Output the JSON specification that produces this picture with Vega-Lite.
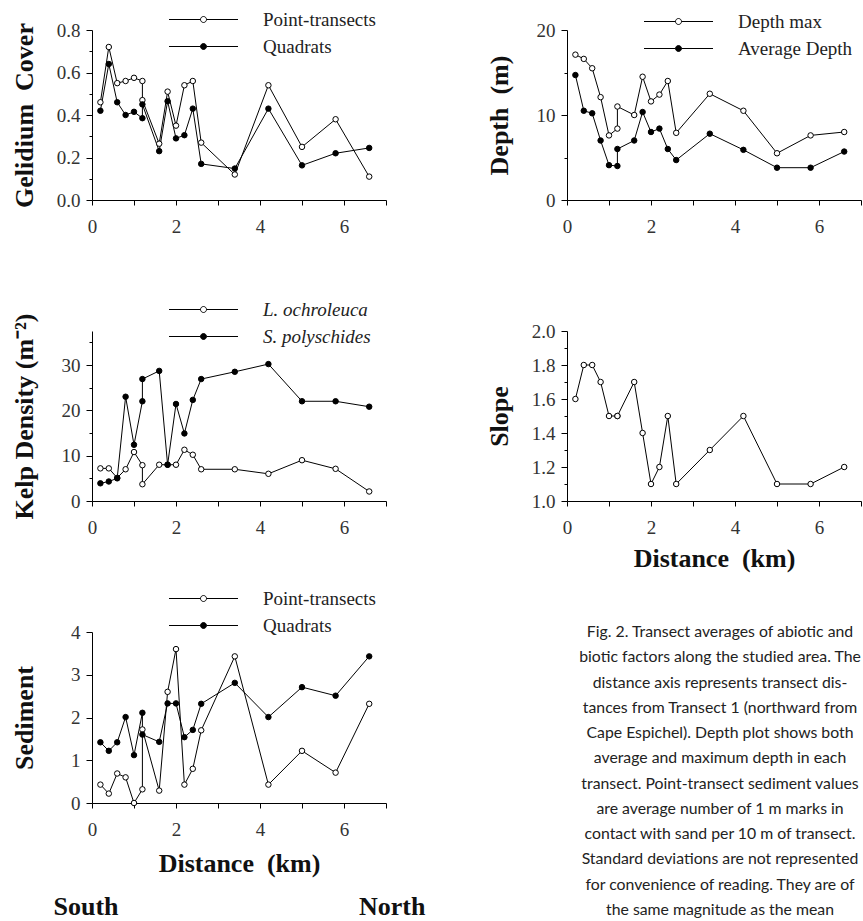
{
  "$schema": "https://vega.github.io/schema/vega-lite/v6.json",
  "background": "white",
  "padding": {"left": 11, "top": 10, "right": 0, "bottom": 0},
  "columns": 2,
  "bounds": "flush",
  "align": "each",
  "spacing": {"row": 131, "column": 181},
  "resolve": {"scale": {"fill": "independent"}, "legend": {"fill": "independent"}},
  "config": {
    "view": {"stroke": null},
    "font": "Liberation Serif",
    "axis": {
      "grid": false,
      "domainColor": "black",
      "domainWidth": 1,
      "tickColor": "black",
      "tickWidth": 1,
      "labelColor": "#333",
      "labelFont": "Liberation Serif",
      "labelFontSize": 19,
      "labelFlush": false,
      "labelOverlap": false,
      "titleFont": "Liberation Serif",
      "titleFontSize": 26,
      "titleFontWeight": "bold",
      "titleColor": "#111"
    },
    "legend": {
      "title": null,
      "orient": "none",
      "padding": 0,
      "symbolType": "M-6.9,0H-0.6M0.6,0H6.9M-0.6,0A0.6,0.6,0,1,0,0.6,0A0.6,0.6,0,1,0,-0.6,0",
      "symbolSize": 100,
      "symbolStrokeColor": "black",
      "symbolStrokeWidth": 1,
      "labelFont": "Liberation Serif",
      "labelFontSize": 19,
      "labelColor": "#222",
      "labelOffset": 50,
      "rowPadding": 7
    }
  },
  "datasets": {
    "gelidium": [
      {"t": 1, "d": 0.2, "s": "Point-transects", "v": 0.46},
      {"t": 2, "d": 0.4, "s": "Point-transects", "v": 0.72},
      {"t": 3, "d": 0.6, "s": "Point-transects", "v": 0.55},
      {"t": 4, "d": 0.8, "s": "Point-transects", "v": 0.56},
      {"t": 5, "d": 1.0, "s": "Point-transects", "v": 0.575},
      {"t": 6, "d": 1.2, "s": "Point-transects", "v": 0.56},
      {"t": 7, "d": 1.2, "s": "Point-transects", "v": 0.47},
      {"t": 8, "d": 1.6, "s": "Point-transects", "v": 0.265},
      {"t": 9, "d": 1.8, "s": "Point-transects", "v": 0.51},
      {"t": 10, "d": 2.0, "s": "Point-transects", "v": 0.35},
      {"t": 11, "d": 2.2, "s": "Point-transects", "v": 0.54},
      {"t": 12, "d": 2.4, "s": "Point-transects", "v": 0.56},
      {"t": 13, "d": 2.6, "s": "Point-transects", "v": 0.27},
      {"t": 14, "d": 3.4, "s": "Point-transects", "v": 0.12},
      {"t": 15, "d": 4.2, "s": "Point-transects", "v": 0.54},
      {"t": 16, "d": 5.0, "s": "Point-transects", "v": 0.25},
      {"t": 17, "d": 5.8, "s": "Point-transects", "v": 0.38},
      {"t": 18, "d": 6.6, "s": "Point-transects", "v": 0.11},
      {"t": 1, "d": 0.2, "s": "Quadrats", "v": 0.42},
      {"t": 2, "d": 0.4, "s": "Quadrats", "v": 0.64},
      {"t": 3, "d": 0.6, "s": "Quadrats", "v": 0.46},
      {"t": 4, "d": 0.8, "s": "Quadrats", "v": 0.40},
      {"t": 5, "d": 1.0, "s": "Quadrats", "v": 0.415},
      {"t": 6, "d": 1.2, "s": "Quadrats", "v": 0.385},
      {"t": 7, "d": 1.2, "s": "Quadrats", "v": 0.45},
      {"t": 8, "d": 1.6, "s": "Quadrats", "v": 0.23},
      {"t": 9, "d": 1.8, "s": "Quadrats", "v": 0.465},
      {"t": 10, "d": 2.0, "s": "Quadrats", "v": 0.29},
      {"t": 11, "d": 2.2, "s": "Quadrats", "v": 0.305},
      {"t": 12, "d": 2.4, "s": "Quadrats", "v": 0.43},
      {"t": 13, "d": 2.6, "s": "Quadrats", "v": 0.17},
      {"t": 14, "d": 3.4, "s": "Quadrats", "v": 0.148},
      {"t": 15, "d": 4.2, "s": "Quadrats", "v": 0.43},
      {"t": 16, "d": 5.0, "s": "Quadrats", "v": 0.163},
      {"t": 17, "d": 5.8, "s": "Quadrats", "v": 0.22},
      {"t": 18, "d": 6.6, "s": "Quadrats", "v": 0.245}
    ],
    "depth": [
      {"t": 1, "d": 0.2, "s": "Depth max", "v": 17.1},
      {"t": 2, "d": 0.4, "s": "Depth max", "v": 16.6},
      {"t": 3, "d": 0.6, "s": "Depth max", "v": 15.5},
      {"t": 4, "d": 0.8, "s": "Depth max", "v": 12.1},
      {"t": 5, "d": 1.0, "s": "Depth max", "v": 7.6},
      {"t": 6, "d": 1.2, "s": "Depth max", "v": 8.4},
      {"t": 7, "d": 1.2, "s": "Depth max", "v": 11.0},
      {"t": 8, "d": 1.6, "s": "Depth max", "v": 10.0},
      {"t": 9, "d": 1.8, "s": "Depth max", "v": 14.5},
      {"t": 10, "d": 2.0, "s": "Depth max", "v": 11.6},
      {"t": 11, "d": 2.2, "s": "Depth max", "v": 12.4},
      {"t": 12, "d": 2.4, "s": "Depth max", "v": 14.0},
      {"t": 13, "d": 2.6, "s": "Depth max", "v": 7.9},
      {"t": 14, "d": 3.4, "s": "Depth max", "v": 12.5},
      {"t": 15, "d": 4.2, "s": "Depth max", "v": 10.5},
      {"t": 16, "d": 5.0, "s": "Depth max", "v": 5.5},
      {"t": 17, "d": 5.8, "s": "Depth max", "v": 7.6},
      {"t": 18, "d": 6.6, "s": "Depth max", "v": 8.0},
      {"t": 1, "d": 0.2, "s": "Average Depth", "v": 14.7},
      {"t": 2, "d": 0.4, "s": "Average Depth", "v": 10.5},
      {"t": 3, "d": 0.6, "s": "Average Depth", "v": 10.2},
      {"t": 4, "d": 0.8, "s": "Average Depth", "v": 7.0},
      {"t": 5, "d": 1.0, "s": "Average Depth", "v": 4.1},
      {"t": 6, "d": 1.2, "s": "Average Depth", "v": 4.0},
      {"t": 7, "d": 1.2, "s": "Average Depth", "v": 6.0},
      {"t": 8, "d": 1.6, "s": "Average Depth", "v": 7.0},
      {"t": 9, "d": 1.8, "s": "Average Depth", "v": 10.35},
      {"t": 10, "d": 2.0, "s": "Average Depth", "v": 8.0},
      {"t": 11, "d": 2.2, "s": "Average Depth", "v": 8.4},
      {"t": 12, "d": 2.4, "s": "Average Depth", "v": 6.0},
      {"t": 13, "d": 2.6, "s": "Average Depth", "v": 4.7},
      {"t": 14, "d": 3.4, "s": "Average Depth", "v": 7.8},
      {"t": 15, "d": 4.2, "s": "Average Depth", "v": 5.9},
      {"t": 16, "d": 5.0, "s": "Average Depth", "v": 3.8},
      {"t": 17, "d": 5.8, "s": "Average Depth", "v": 3.8},
      {"t": 18, "d": 6.6, "s": "Average Depth", "v": 5.7}
    ],
    "kelp": [
      {"t": 1, "d": 0.2, "s": "L. ochroleuca", "v": 7.2},
      {"t": 2, "d": 0.4, "s": "L. ochroleuca", "v": 7.2},
      {"t": 3, "d": 0.6, "s": "L. ochroleuca", "v": 5.1},
      {"t": 4, "d": 0.8, "s": "L. ochroleuca", "v": 7.0},
      {"t": 5, "d": 1.0, "s": "L. ochroleuca", "v": 10.8},
      {"t": 6, "d": 1.2, "s": "L. ochroleuca", "v": 7.9},
      {"t": 7, "d": 1.2, "s": "L. ochroleuca", "v": 3.7},
      {"t": 8, "d": 1.6, "s": "L. ochroleuca", "v": 8.0},
      {"t": 9, "d": 1.8, "s": "L. ochroleuca", "v": 8.0},
      {"t": 10, "d": 2.0, "s": "L. ochroleuca", "v": 8.0},
      {"t": 11, "d": 2.2, "s": "L. ochroleuca", "v": 11.3},
      {"t": 12, "d": 2.4, "s": "L. ochroleuca", "v": 10.2},
      {"t": 13, "d": 2.6, "s": "L. ochroleuca", "v": 7.0},
      {"t": 14, "d": 3.4, "s": "L. ochroleuca", "v": 7.0},
      {"t": 15, "d": 4.2, "s": "L. ochroleuca", "v": 6.0},
      {"t": 16, "d": 5.0, "s": "L. ochroleuca", "v": 9.0},
      {"t": 17, "d": 5.8, "s": "L. ochroleuca", "v": 7.1},
      {"t": 18, "d": 6.6, "s": "L. ochroleuca", "v": 2.1},
      {"t": 1, "d": 0.2, "s": "S. polyschides", "v": 3.9},
      {"t": 2, "d": 0.4, "s": "S. polyschides", "v": 4.3},
      {"t": 3, "d": 0.6, "s": "S. polyschides", "v": 5.0},
      {"t": 4, "d": 0.8, "s": "S. polyschides", "v": 23.0},
      {"t": 5, "d": 1.0, "s": "S. polyschides", "v": 12.4},
      {"t": 6, "d": 1.2, "s": "S. polyschides", "v": 22.0},
      {"t": 7, "d": 1.2, "s": "S. polyschides", "v": 26.9},
      {"t": 8, "d": 1.6, "s": "S. polyschides", "v": 28.7},
      {"t": 9, "d": 1.8, "s": "S. polyschides", "v": 8.0},
      {"t": 10, "d": 2.0, "s": "S. polyschides", "v": 21.4},
      {"t": 11, "d": 2.2, "s": "S. polyschides", "v": 14.9},
      {"t": 12, "d": 2.4, "s": "S. polyschides", "v": 22.3},
      {"t": 13, "d": 2.6, "s": "S. polyschides", "v": 26.9},
      {"t": 14, "d": 3.4, "s": "S. polyschides", "v": 28.5},
      {"t": 15, "d": 4.2, "s": "S. polyschides", "v": 30.2},
      {"t": 16, "d": 5.0, "s": "S. polyschides", "v": 22.0},
      {"t": 17, "d": 5.8, "s": "S. polyschides", "v": 22.0},
      {"t": 18, "d": 6.6, "s": "S. polyschides", "v": 20.8}
    ],
    "slope": [
      {"t": 1, "d": 0.2, "v": 1.6},
      {"t": 2, "d": 0.4, "v": 1.8},
      {"t": 3, "d": 0.6, "v": 1.8},
      {"t": 4, "d": 0.8, "v": 1.7},
      {"t": 5, "d": 1.0, "v": 1.5},
      {"t": 6, "d": 1.2, "v": 1.5},
      {"t": 7, "d": 1.2, "v": 1.5},
      {"t": 8, "d": 1.6, "v": 1.7},
      {"t": 9, "d": 1.8, "v": 1.4},
      {"t": 10, "d": 2.0, "v": 1.1},
      {"t": 11, "d": 2.2, "v": 1.2},
      {"t": 12, "d": 2.4, "v": 1.5},
      {"t": 13, "d": 2.6, "v": 1.1},
      {"t": 14, "d": 3.4, "v": 1.3},
      {"t": 15, "d": 4.2, "v": 1.5},
      {"t": 16, "d": 5.0, "v": 1.1},
      {"t": 17, "d": 5.8, "v": 1.1},
      {"t": 18, "d": 6.6, "v": 1.2}
    ],
    "sediment": [
      {"t": 1, "d": 0.2, "s": "Point-transects", "v": 0.43},
      {"t": 2, "d": 0.4, "s": "Point-transects", "v": 0.22},
      {"t": 3, "d": 0.6, "s": "Point-transects", "v": 0.69},
      {"t": 4, "d": 0.8, "s": "Point-transects", "v": 0.6},
      {"t": 5, "d": 1.0, "s": "Point-transects", "v": 0.0},
      {"t": 6, "d": 1.2, "s": "Point-transects", "v": 0.32},
      {"t": 7, "d": 1.2, "s": "Point-transects", "v": 1.72},
      {"t": 8, "d": 1.6, "s": "Point-transects", "v": 0.29},
      {"t": 9, "d": 1.8, "s": "Point-transects", "v": 2.6},
      {"t": 10, "d": 2.0, "s": "Point-transects", "v": 3.6},
      {"t": 11, "d": 2.2, "s": "Point-transects", "v": 0.43},
      {"t": 12, "d": 2.4, "s": "Point-transects", "v": 0.8},
      {"t": 13, "d": 2.6, "s": "Point-transects", "v": 1.7},
      {"t": 14, "d": 3.4, "s": "Point-transects", "v": 3.43},
      {"t": 15, "d": 4.2, "s": "Point-transects", "v": 0.43},
      {"t": 16, "d": 5.0, "s": "Point-transects", "v": 1.22},
      {"t": 17, "d": 5.8, "s": "Point-transects", "v": 0.71},
      {"t": 18, "d": 6.6, "s": "Point-transects", "v": 2.32},
      {"t": 1, "d": 0.2, "s": "Quadrats", "v": 1.42},
      {"t": 2, "d": 0.4, "s": "Quadrats", "v": 1.22},
      {"t": 3, "d": 0.6, "s": "Quadrats", "v": 1.42},
      {"t": 4, "d": 0.8, "s": "Quadrats", "v": 2.01},
      {"t": 5, "d": 1.0, "s": "Quadrats", "v": 1.12},
      {"t": 6, "d": 1.2, "s": "Quadrats", "v": 2.11},
      {"t": 7, "d": 1.2, "s": "Quadrats", "v": 1.6},
      {"t": 8, "d": 1.6, "s": "Quadrats", "v": 1.43},
      {"t": 9, "d": 1.8, "s": "Quadrats", "v": 2.33},
      {"t": 10, "d": 2.0, "s": "Quadrats", "v": 2.33},
      {"t": 11, "d": 2.2, "s": "Quadrats", "v": 1.54},
      {"t": 12, "d": 2.4, "s": "Quadrats", "v": 1.71},
      {"t": 13, "d": 2.6, "s": "Quadrats", "v": 2.32},
      {"t": 14, "d": 3.4, "s": "Quadrats", "v": 2.81},
      {"t": 15, "d": 4.2, "s": "Quadrats", "v": 2.01},
      {"t": 16, "d": 5.0, "s": "Quadrats", "v": 2.71},
      {"t": 17, "d": 5.8, "s": "Quadrats", "v": 2.51},
      {"t": 18, "d": 6.6, "s": "Quadrats", "v": 3.43}
    ],
    "caption": [
      {"line": 1, "text": "Fig. 2. Transect averages of abiotic and"},
      {"line": 2, "text": "biotic factors along the studied area. The"},
      {"line": 3, "text": "distance axis represents transect dis-"},
      {"line": 4, "text": "tances from Transect 1 (northward from"},
      {"line": 5, "text": "Cape Espichel). Depth plot shows both"},
      {"line": 6, "text": "average and maximum depth in each"},
      {"line": 7, "text": "transect. Point-transect sediment values"},
      {"line": 8, "text": "are average number of 1 m marks in"},
      {"line": 9, "text": "contact with sand per 10 m of transect."},
      {"line": 10, "text": "Standard deviations are not represented"},
      {"line": 11, "text": "for convenience of reading. They are of"},
      {"line": 12, "text": "the same magnitude as the mean"}
    ]
  },
  "concat": [
    {
      "width": 294, "height": 170,
      "data": {"name": "gelidium"},
      "encoding": {
        "x": {"field": "d", "type": "quantitative", "scale": {"domain": [0, 7], "nice": false, "zero": false},
              "axis": {"values": [0, 1, 2, 3, 4, 5, 6, 7], "labelExpr": "datum.value % 2 === 0 ? datum.label : ''", "title": null, "tickSize": 5, "labelPadding": 12, "labelFont": "Liberation Serif"}},
        "y": {"field": "v", "type": "quantitative", "scale": {"domain": [0, 0.8], "nice": false},
              "axis": {"values": [0, 0.1, 0.2, 0.3, 0.4, 0.5, 0.6, 0.7, 0.8], "format": ".1f", "labelFont": "Liberation Serif",
                       "labelExpr": "round(datum.value*10) % 2 === 0 ? datum.label : ''",
                       "tickSize": {"condition": {"test": "round(datum.value*10) % 2 === 0", "value": 6}, "value": 3},
                       "labelPadding": 6, "title": "Gelidium\u00a0 Cover", "titleX": -60, "titleBaseline": "alphabetic"}}
      },
      "layer": [
        {"mark": {"type": "line", "color": "black", "strokeWidth": 1}, "encoding": {"detail": {"field": "s"}, "order": {"field": "t"}}},
        {"mark": {"type": "point", "shape": "circle", "filled": true, "stroke": "black", "strokeWidth": 1, "size": 30, "opacity": 1},
         "encoding": {"fill": {"field": "s", "type": "nominal", "scale": {"domain": ["Point-transects", "Quadrats"], "range": ["white", "black"]},
                               "legend": {"legendX": 102, "legendY": -20}}}}
      ]
    },
    {
      "width": 294, "height": 170,
      "data": {"name": "depth"},
      "encoding": {
        "x": {"field": "d", "type": "quantitative", "scale": {"domain": [0, 7], "nice": false, "zero": false},
              "axis": {"values": [0, 1, 2, 3, 4, 5, 6, 7], "labelExpr": "datum.value % 2 === 0 ? datum.label : ''", "title": null, "tickSize": 5, "labelPadding": 12, "labelFont": "Liberation Serif"}},
        "y": {"field": "v", "type": "quantitative", "scale": {"domain": [0, 20], "nice": false},
              "axis": {"values": [0, 5, 10, 15, 20], "format": "d", "labelFont": "Liberation Serif",
                       "labelExpr": "datum.value % 10 === 0 ? datum.label : ''",
                       "tickSize": {"condition": {"test": "datum.value % 10 === 0", "value": 6}, "value": 3},
                       "labelPadding": 6, "title": "Depth\u00a0 (m)", "titleX": -60, "titleBaseline": "alphabetic"}}
      },
      "layer": [
        {"mark": {"type": "line", "color": "black", "strokeWidth": 1}, "encoding": {"detail": {"field": "s"}, "order": {"field": "t"}}},
        {"mark": {"type": "point", "shape": "circle", "filled": true, "stroke": "black", "strokeWidth": 1, "size": 30, "opacity": 1},
         "encoding": {"fill": {"field": "s", "type": "nominal", "scale": {"domain": ["Depth max", "Average Depth"], "range": ["white", "black"]},
                               "legend": {"legendX": 102, "legendY": -18}}}}
      ]
    },
    {
      "width": 294, "height": 170,
      "data": {"name": "kelp"},
      "encoding": {
        "x": {"field": "d", "type": "quantitative", "scale": {"domain": [0, 7], "nice": false, "zero": false},
              "axis": {"values": [0, 1, 2, 3, 4, 5, 6, 7], "labelExpr": "datum.value % 2 === 0 ? datum.label : ''", "title": null, "tickSize": 5, "labelPadding": 12, "labelFont": "Liberation Serif"}},
        "y": {"field": "v", "type": "quantitative", "scale": {"domain": [0, 37.5], "nice": false},
              "axis": {"values": [0, 5, 10, 15, 20, 25, 30, 35], "format": "d", "labelFont": "Liberation Serif",
                       "labelExpr": "datum.value % 10 === 0 ? datum.label : ''",
                       "tickSize": {"condition": {"test": "datum.value % 10 === 0", "value": 6}, "value": 3},
                       "labelPadding": 6, "title": "Kelp Density (m\u207b\u00b2)", "titleX": -60, "titleBaseline": "alphabetic"}}
      },
      "layer": [
        {"mark": {"type": "line", "color": "black", "strokeWidth": 1}, "encoding": {"detail": {"field": "s"}, "order": {"field": "t"}}},
        {"mark": {"type": "point", "shape": "circle", "filled": true, "stroke": "black", "strokeWidth": 1, "size": 30, "opacity": 1},
         "encoding": {"fill": {"field": "s", "type": "nominal", "scale": {"domain": ["L. ochroleuca", "S. polyschides"], "range": ["white", "black"]},
                               "legend": {"legendX": 102, "legendY": -31, "labelFontStyle": "italic"}}}}
      ]
    },
    {
      "width": 294, "height": 170,
      "data": {"name": "slope"},
      "encoding": {
        "x": {"field": "d", "type": "quantitative", "scale": {"domain": [0, 7], "nice": false, "zero": false},
              "axis": {"values": [0, 1, 2, 3, 4, 5, 6, 7], "labelExpr": "datum.value % 2 === 0 ? datum.label : ''", "title": "Distance\u00a0 (km)", "titlePadding": 8, "tickSize": 5, "labelPadding": 12, "labelFont": "Liberation Serif"}},
        "y": {"field": "v", "type": "quantitative", "scale": {"domain": [1, 2], "nice": false, "zero": false},
              "axis": {"values": [1.0, 1.1, 1.2, 1.3, 1.4, 1.5, 1.6, 1.7, 1.8, 1.9, 2.0], "format": ".1f", "labelFont": "Liberation Serif",
                       "labelExpr": "round(datum.value*10) % 2 === 0 ? datum.label : ''",
                       "tickSize": {"condition": {"test": "round(datum.value*10) % 2 === 0", "value": 6}, "value": 3},
                       "labelPadding": 6, "title": "Slope", "titleX": -60, "titleBaseline": "alphabetic"}}
      },
      "layer": [
        {"mark": {"type": "line", "color": "black", "strokeWidth": 1}, "encoding": {"order": {"field": "t"}}},
        {"mark": {"type": "point", "shape": "circle", "filled": true, "fill": "white", "stroke": "black", "strokeWidth": 1, "size": 30, "opacity": 1}, "encoding": {}}
      ]
    },
    {
      "width": 294, "height": 171,
      "data": {"name": "sediment"},
      "encoding": {
        "x": {"field": "d", "type": "quantitative", "scale": {"domain": [0, 7], "nice": false, "zero": false},
              "axis": {"values": [0, 1, 2, 3, 4, 5, 6, 7], "labelExpr": "datum.value % 2 === 0 ? datum.label : ''", "labelFont": "Liberation Serif",
                       "title": ["Distance\u00a0 (km)", "South\u00a0\u00a0\u00a0\u00a0\u00a0\u00a0\u00a0\u00a0\u00a0\u00a0\u00a0\u00a0\u00a0\u00a0\u00a0\u00a0\u00a0\u00a0\u00a0\u00a0\u00a0\u00a0\u00a0\u00a0\u00a0\u00a0\u00a0\u00a0\u00a0\u00a0\u00a0\u00a0\u00a0\u00a0\u00a0\u00a0\u00a0North"],
                       "titleLineHeight": 43, "titlePadding": 11, "tickSize": 5, "labelPadding": 12}},
        "y": {"field": "v", "type": "quantitative", "scale": {"domain": [0, 4], "nice": false},
              "axis": {"values": [0, 0.5, 1, 1.5, 2, 2.5, 3, 3.5, 4], "format": "d", "labelFont": "Liberation Serif",
                       "labelExpr": "datum.value % 1 === 0 ? datum.label : ''",
                       "tickSize": {"condition": {"test": "datum.value % 1 === 0", "value": 6}, "value": 3},
                       "labelPadding": 6, "title": "Sediment", "titleX": -60, "titleBaseline": "alphabetic"}}
      },
      "layer": [
        {"mark": {"type": "line", "color": "black", "strokeWidth": 1}, "encoding": {"detail": {"field": "s"}, "order": {"field": "t"}}},
        {"mark": {"type": "point", "shape": "circle", "filled": true, "stroke": "black", "strokeWidth": 1, "size": 30, "opacity": 1},
         "encoding": {"fill": {"field": "s", "type": "nominal", "scale": {"domain": ["Point-transects", "Quadrats"], "range": ["white", "black"]},
                               "legend": {"legendX": 102, "legendY": -43}}}}
      ]
    },
    {
      "width": 306, "height": 278,
      "data": {"name": "caption"},
      "mark": {"type": "text", "font": "Lato", "fontSize": 15.8, "align": "center", "baseline": "middle", "color": "#222"},
      "encoding": {
        "y": {"field": "line", "type": "ordinal", "scale": {"type": "point", "padding": 0}, "axis": null},
        "text": {"field": "text", "type": "nominal"}
      }
    }
  ]
}
